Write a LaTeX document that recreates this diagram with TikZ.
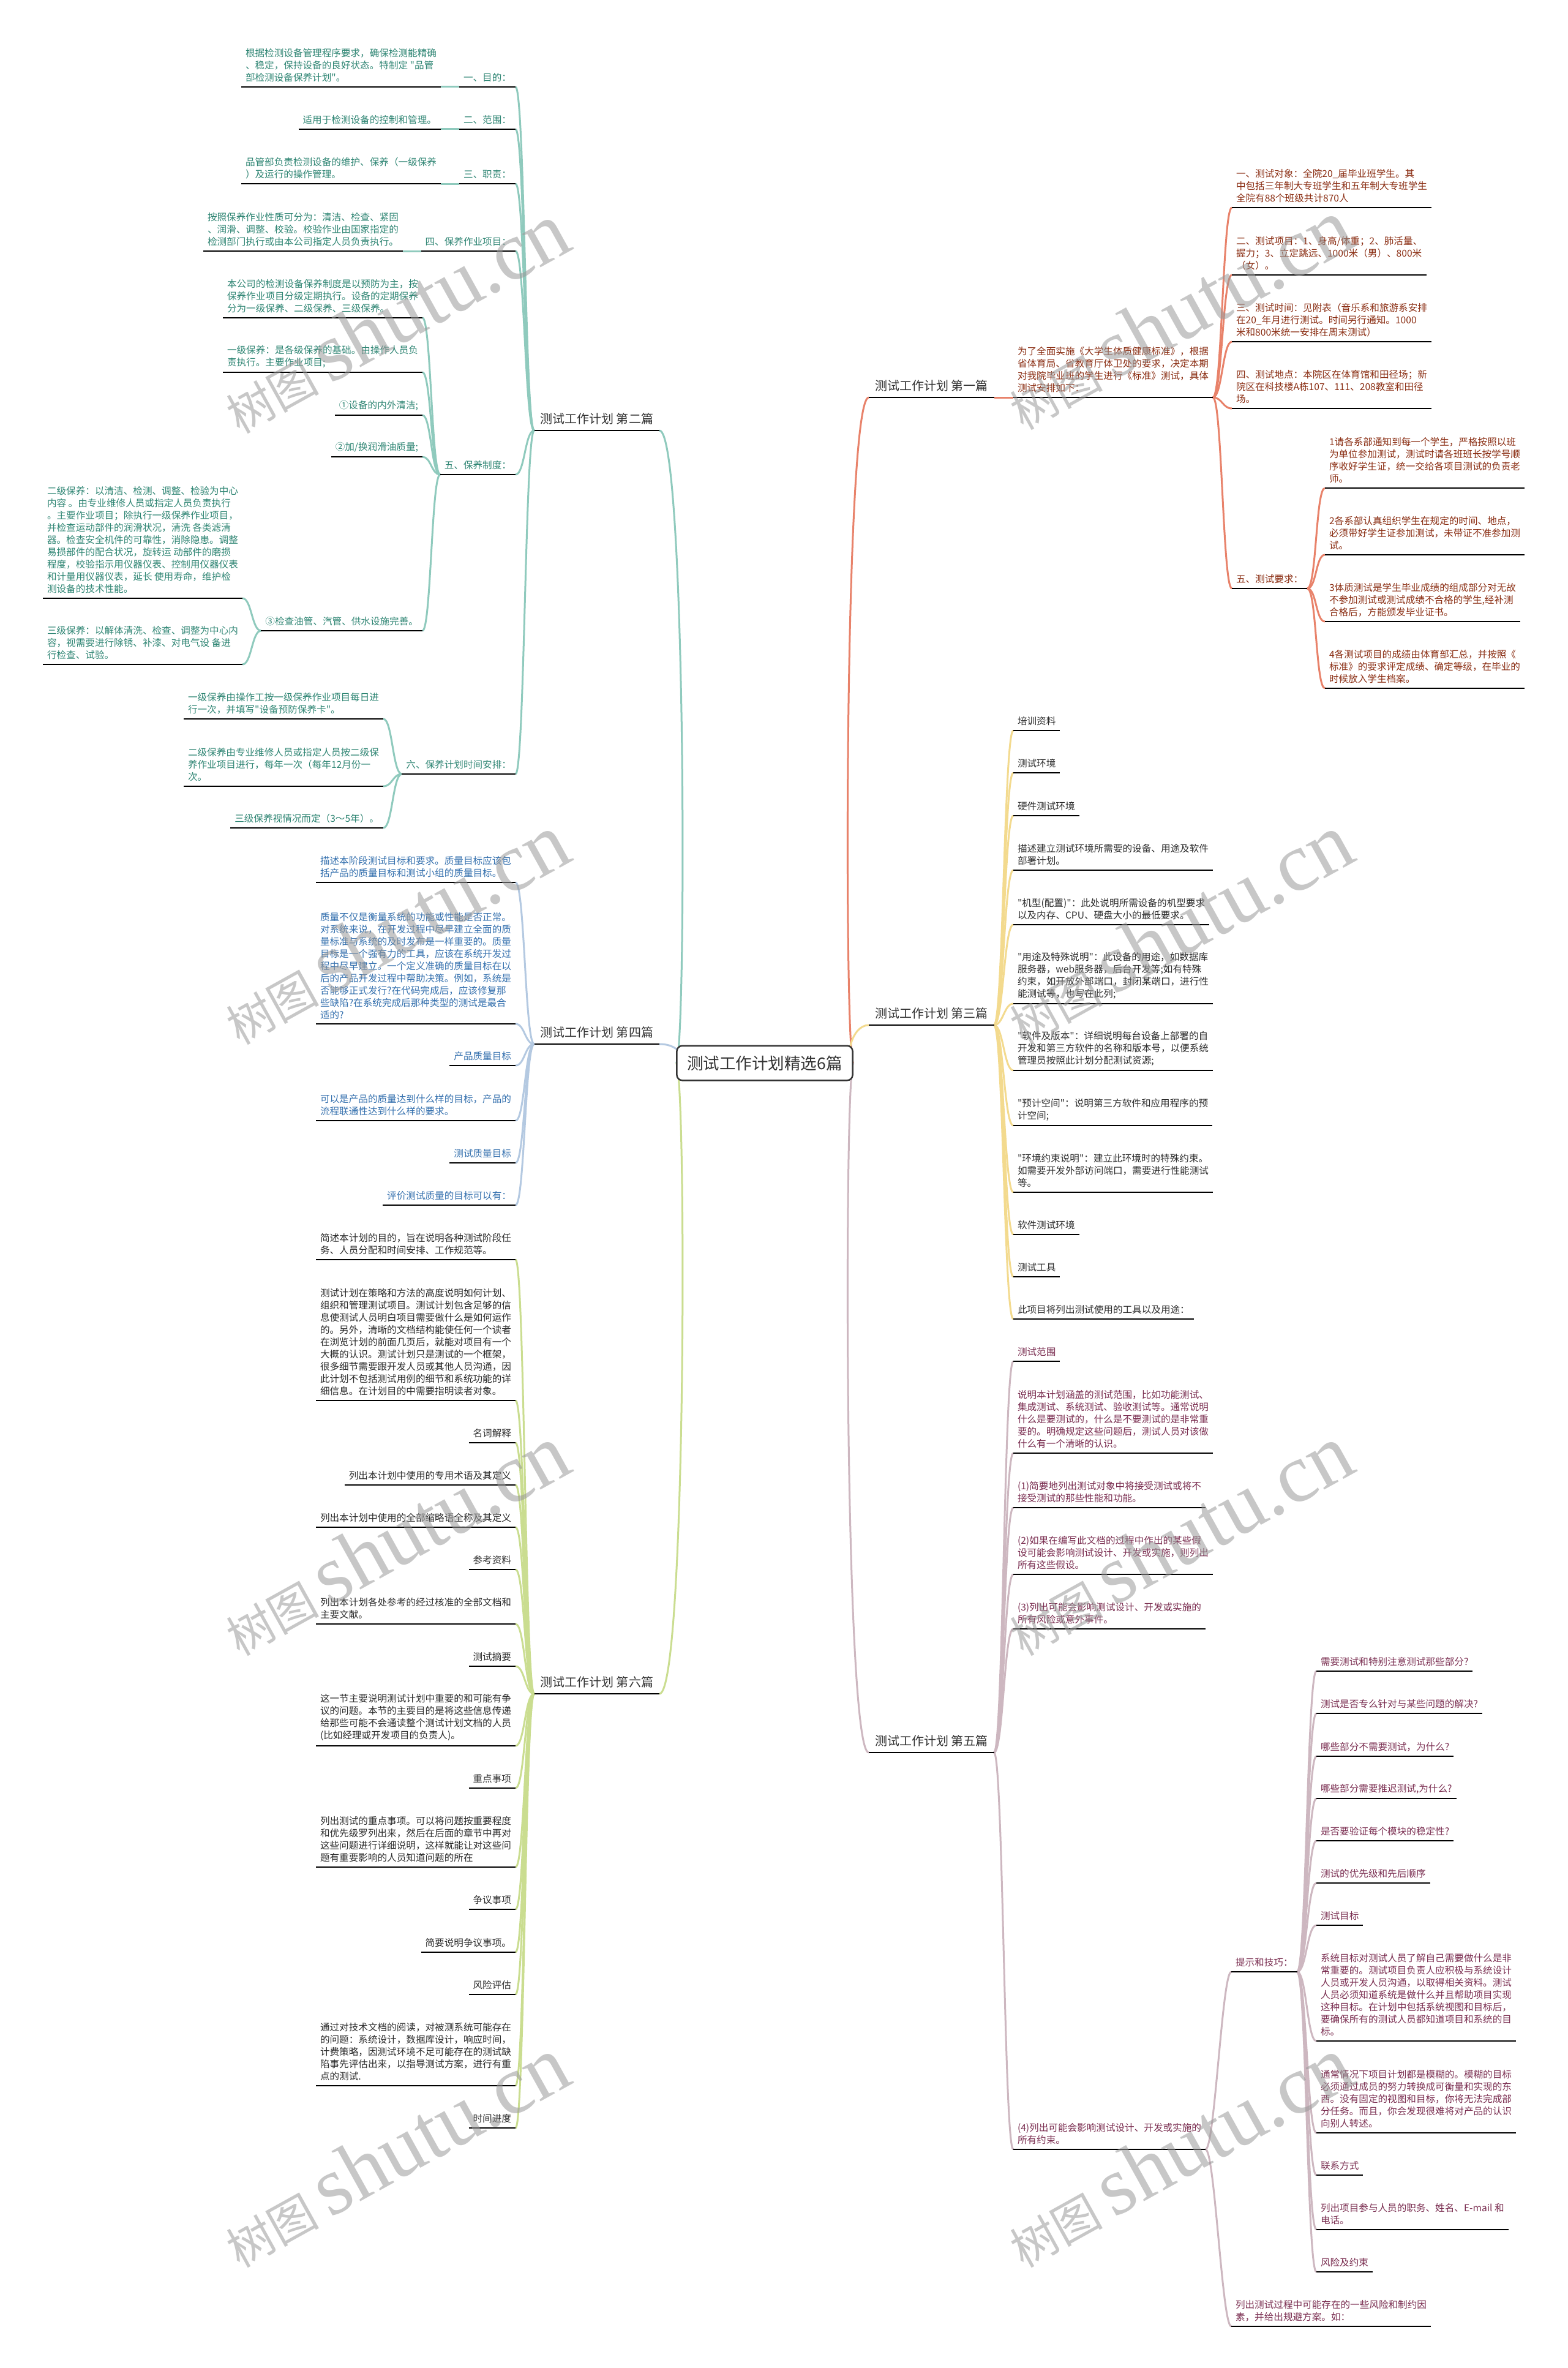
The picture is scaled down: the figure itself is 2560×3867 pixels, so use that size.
\documentclass[tikz,border=0pt]{standalone}
\usepackage{fontspec}
\setmainfont[Ligatures=TeXOff]{Noto Sans CJK SC}
\newfontfamily\wmlatin{Liberation Serif}
\usetikzlibrary{backgrounds}
\definecolor{lkteal}{HTML}{8FCABD}
\definecolor{txteal}{HTML}{2E8573}
\definecolor{lkred}{HTML}{E8826A}
\definecolor{txred}{HTML}{8A2D12}
\definecolor{lkyel}{HTML}{F3DA8E}
\definecolor{txdark}{HTML}{2B2B2B}
\definecolor{lkblue}{HTML}{B4C9E1}
\definecolor{txblue}{HTML}{3470AE}
\definecolor{lkgrn}{HTML}{CADD90}
\definecolor{lkmauve}{HTML}{CDB7C0}
\definecolor{txmauve}{HTML}{7A2D50}
\definecolor{headgray}{HTML}{333333}
\newcommand{\leaffont}{\fontsize{15.6}{20}\selectfont}
\newcommand{\headfont}{\fontsize{20}{24}\selectfont}
\newcommand{\rootfont}{\fontsize{26.5}{30}\selectfont}
\newcommand{\wmtext}{{\fontsize{76}{76}\selectfont 树图}\hspace{18pt}{\wmlatin\fontsize{136}{136}\selectfont shutu.cn}}

\begin{document}
\begin{tikzpicture}[x=1pt,y=-1pt]
	\tikzstyle{uline}=[draw=black, line width=2.4pt]
	\tikzstyle{leaf}=[font=\leaffont, align=left, inner xsep=7pt, inner ysep=8pt, outer sep=0pt, append after command={(\tikzlastnode.south west) edge [uline] (\tikzlastnode.south east)}]
	\tikzstyle{head}=[leaf, font=\headfont, text=headgray, inner xsep=10pt, inner ysep=10pt]
	\tikzstyle{lt}=[anchor=south east]
	\tikzstyle{rt}=[anchor=south west]
	\tikzstyle{tteal}=[leaf, text=txteal]
	\tikzstyle{tred}=[leaf, text=txred]
	\tikzstyle{tdark}=[leaf, text=txdark]
	\tikzstyle{tblue}=[leaf, text=txblue]
	\tikzstyle{tmauve}=[leaf, text=txmauve]
	\tikzstyle{cteal}=[draw=lkteal, line width=3pt]
	\tikzstyle{cred}=[draw=lkred, line width=3pt]
	\tikzstyle{cyel}=[draw=lkyel, line width=3pt]
	\tikzstyle{cblue}=[draw=lkblue, line width=3pt]
	\tikzstyle{cgrn}=[draw=lkgrn, line width=3pt]
	\tikzstyle{cmauve}=[draw=lkmauve, line width=3pt]
	\tikzstyle{root}=[draw=headgray, line width=2.5pt, rounded corners=9pt, fill=white, font=\rootfont, text=headgray, inner xsep=17pt, inner ysep=16pt]
	\tikzstyle{wm}=[rotate=29, text=black!40, opacity=0.55]
	\useasboundingbox (0,0) rectangle (2560,3867);

	\node [root] (root) at (1249,1736) {测试工作计划精选6篇};

	\node [head, lt] (b2) at (1077,703) {测试工作计划 第二篇};
	\node [tteal, lt] (b2a) at (842,142) {一、目的：};
	\node [tteal, lt] (b2a1) at (720,142) {根据检测设备管理程序要求，确保检测能精确\\、稳定，保持设备的良好状态。特制定 "品管\\部检测设备保养计划"。};
	\node [tteal, lt] (b2b) at (842,211) {二、范围：};
	\node [tteal, lt] (b2b1) at (720,211) {适用于检测设备的控制和管理。};
	\node [tteal, lt] (b2c) at (842,300) {三、职责：};
	\node [tteal, lt] (b2c1) at (720,300) {品管部负责检测设备的维护、保养（一级保养\\）及运行的操作管理。};
	\node [tteal, lt] (b2d) at (842,410) {四、保养作业项目：};
	\node [tteal, lt] (b2d1) at (658,410) {按照保养作业性质可分为：清洁、检查、紧固\\、润滑、调整、校验。校验作业由国家指定的\\检测部门执行或由本公司指定人员负责执行。};
	\node [tteal, lt] (b2e) at (842,775) {五、保养制度：};
	\node [tteal, lt] (b2e1) at (690,519) {本公司的检测设备保养制度是以预防为主，按\\保养作业项目分级定期执行。设备的定期保养\\分为一级保养、二级保养、三级保养。};
	\node [tteal, lt] (b2e2) at (690,608) {一级保养：是各级保养的基础。由操作人员负\\责执行。主要作业项目;};
	\node [tteal, lt] (b2e3) at (690,678) {①设备的内外清洁;};
	\node [tteal, lt] (b2e4) at (690,746) {②加/换润滑油质量;};
	\node [tteal, lt] (b2e5) at (690,1030) {③检查油管、汽管、供水设施完善。};
	\node [tteal, lt] (b2e5a) at (396,977) {二级保养：以清洁、检测、调整、检验为中心\\内容 。由专业维修人员或指定人员负责执行\\。主要作业项目；除执行一级保养作业项目，\\并检查运动部件的润滑状况，清洗 各类滤清\\器。检查安全机件的可靠性，消除隐患。调整\\易损部件的配合状况，旋转运 动部件的磨损\\程度，校验指示用仪器仪表、控制用仪器仪表\\和计量用仪器仪表，延长 使用寿命，维护检\\测设备的技术性能。};
	\node [tteal, lt] (b2e5b) at (396,1085) {三级保养：以解体清洗、检查、调整为中心内\\容，视需要进行除锈、补漆、对电气设 备进\\行检查、试验。};
	\node [tteal, lt] (b2f) at (842,1264) {六、保养计划时间安排：};
	\node [tteal, lt] (b2f1) at (626,1174) {一级保养由操作工按一级保养作业项目每日进\\行一次，并填写"设备预防保养卡"。};
	\node [tteal, lt] (b2f2) at (626,1284) {二级保养由专业维修人员或指定人员按二级保\\养作业项目进行，每年一次（每年12月份一\\次。};
	\node [tteal, lt] (b2f3) at (626,1352) {三级保养视情况而定（3～5年）。};

	\node [head, rt] (b1) at (1419,649) {测试工作计划 第一篇};
	\node [tred, rt] (b1a) at (1655,649) {为了全面实施《大学生体质健康标准》，根据\\省体育局、省教育厅体卫处的要求，决定本期\\对我院毕业班的学生进行《标准》测试，具体\\测试安排如下：};
	\node [tred, rt] (b1a1) at (2012,339) {一、测试对象：全院20\_届毕业班学生。其\\中包括三年制大专班学生和五年制大专班学生\\全院有88个班级共计870人};
	\node [tred, rt] (b1a2) at (2012,449) {二、测试项目：1、身高/体重；2、肺活量、\\握力；3、立定跳远、1000米（男）、800米\\（女）。};
	\node [tred, rt] (b1a3) at (2012,558) {三、测试时间：见附表（音乐系和旅游系安排\\在20\_年月进行测试。时间另行通知。1000\\米和800米统一安排在周末测试）};
	\node [tred, rt] (b1a4) at (2012,667) {四、测试地点：本院区在体育馆和田径场；新\\院区在科技楼A栋107、111、208教室和田径\\场。};
	\node [tred, rt] (b1a5) at (2012,961) {五、测试要求：};
	\node [tred, rt] (b1a5a) at (2164,797) {1请各系部通知到每一个学生，严格按照以班\\为单位参加测试，测试时请各班班长按学号顺\\序收好学生证，统一交给各项目测试的负责老\\师。};
	\node [tred, rt] (b1a5b) at (2164,906) {2各系部认真组织学生在规定的时间、地点，\\必须带好学生证参加测试，未带证不准参加测\\试。};
	\node [tred, rt] (b1a5c) at (2164,1015) {3体质测试是学生毕业成绩的组成部分对无故\\不参加测试或测试成绩不合格的学生,经补测\\合格后，方能颁发毕业证书。};
	\node [tred, rt] (b1a5d) at (2164,1124) {4各测试项目的成绩由体育部汇总，并按照《\\标准》的要求评定成绩、确定等级，在毕业的\\时候放入学生档案。};

	\node [head, rt] (b3) at (1419,1674) {测试工作计划 第三篇};
	\node [tdark, rt] (b3a) at (1655,1193) {培训资料};
	\node [tdark, rt] (b3b) at (1655,1262) {测试环境};
	\node [tdark, rt] (b3c) at (1655,1332) {硬件测试环境};
	\node [tdark, rt] (b3d) at (1655,1421) {描述建立测试环境所需要的设备、用途及软件\\部署计划。};
	\node [tdark, rt] (b3e) at (1655,1510) {"机型(配置)"：此处说明所需设备的机型要求\\以及内存、CPU、硬盘大小的最低要求。};
	\node [tdark, rt] (b3f) at (1655,1639) {"用途及特殊说明"：此设备的用途，如数据库\\服务器，web服务器，后台开发等;如有特殊\\约束，如开放外部端口，封闭某端口，进行性\\能测试等，也写在此列;};
	\node [tdark, rt] (b3g) at (1655,1748) {"软件及版本"：详细说明每台设备上部署的自\\开发和第三方软件的名称和版本号，以便系统\\管理员按照此计划分配测试资源;};
	\node [tdark, rt] (b3h) at (1655,1838) {"预计空间"：说明第三方软件和应用程序的预\\计空间;};
	\node [tdark, rt] (b3i) at (1655,1947) {"环境约束说明"：建立此环境时的特殊约束。\\如需要开发外部访问端口，需要进行性能测试\\等。};
	\node [tdark, rt] (b3j) at (1655,2016) {软件测试环境};
	\node [tdark, rt] (b3k) at (1655,2085) {测试工具};
	\node [tdark, rt] (b3l) at (1655,2154) {此项目将列出测试使用的工具以及用途：};

	\node [head, lt] (b4) at (1077,1705) {测试工作计划 第四篇};
	\node [tblue, lt] (b4a) at (842,1441) {描述本阶段测试目标和要求。质量目标应该包\\括产品的质量目标和测试小组的质量目标。};
	\node [tblue, lt] (b4b) at (842,1672) {质量不仅是衡量系统的功能或性能是否正常。\\对系统来说，在开发过程中尽早建立全面的质\\量标准与系统的及时发布是一样重要的。质量\\目标是一个强有力的工具，应该在系统开发过\\程中尽早建立。一个定义准确的质量目标在以\\后的产品开发过程中帮助决策。例如，系统是\\否能够正式发行?在代码完成后，应该修复那\\些缺陷?在系统完成后那种类型的测试是最合\\适的?};
	\node [tblue, lt] (b4c) at (842,1740) {产品质量目标};
	\node [tblue, lt] (b4d) at (842,1830) {可以是产品的质量达到什么样的目标，产品的\\流程联通性达到什么样的要求。};
	\node [tblue, lt] (b4e) at (842,1899) {测试质量目标};
	\node [tblue, lt] (b4f) at (842,1968) {评价测试质量的目标可以有：};

	\node [head, lt] (b6) at (1077,2766) {测试工作计划 第六篇};
	\node [tdark, lt] (b6a) at (842,2057) {简述本计划的目的，旨在说明各种测试阶段任\\务、人员分配和时间安排、工作规范等。};
	\node [tdark, lt] (b6b) at (842,2287) {测试计划在策略和方法的高度说明如何计划、\\组织和管理测试项目。测试计划包含足够的信\\息使测试人员明白项目需要做什么是如何运作\\的。另外，清晰的文档结构能使任何一个读者\\在浏览计划的前面几页后，就能对项目有一个\\大概的认识。测试计划只是测试的一个框架，\\很多细节需要跟开发人员或其他人员沟通，因\\此计划不包括测试用例的细节和系统功能的详\\细信息。在计划目的中需要指明读者对象。};
	\node [tdark, lt] (b6c) at (842,2356) {名词解释};
	\node [tdark, lt] (b6d) at (842,2425) {列出本计划中使用的专用术语及其定义};
	\node [tdark, lt] (b6e) at (842,2494) {列出本计划中使用的全部缩略语全称及其定义};
	\node [tdark, lt] (b6f) at (842,2563) {参考资料};
	\node [tdark, lt] (b6g) at (842,2652) {列出本计划各处参考的经过核准的全部文档和\\主要文献。};
	\node [tdark, lt] (b6h) at (842,2721) {测试摘要};
	\node [tdark, lt] (b6i) at (842,2851) {这一节主要说明测试计划中重要的和可能有争\\议的问题。本节的主要目的是将这些信息传递\\给那些可能不会通读整个测试计划文档的人员\\(比如经理或开发项目的负责人)。};
	\node [tdark, lt] (b6j) at (842,2920) {重点事项};
	\node [tdark, lt] (b6k) at (842,3049) {列出测试的重点事项。可以将问题按重要程度\\和优先级罗列出来，然后在后面的章节中再对\\这些问题进行详细说明，这样就能让对这些问\\题有重要影响的人员知道问题的所在};
	\node [tdark, lt] (b6l) at (842,3118) {争议事项};
	\node [tdark, lt] (b6m) at (842,3188) {简要说明争议事项。};
	\node [tdark, lt] (b6n) at (842,3257) {风险评估};
	\node [tdark, lt] (b6o) at (842,3406) {通过对技术文档的阅读，对被测系统可能存在\\的问题：系统设计，数据库设计，响应时间，\\计费策略，因测试环境不足可能存在的测试缺\\陷事先评估出来，以指导测试方案，进行有重\\点的测试.};
	\node [tdark, lt] (b6p) at (842,3475) {时间进度};

	\node [head, rt] (b5) at (1419,2862) {测试工作计划 第五篇};
	\node [tmauve, rt] (b5a) at (1655,2223) {测试范围};
	\node [tmauve, rt] (b5b) at (1655,2373) {说明本计划涵盖的测试范围，比如功能测试、\\集成测试、系统测试、验收测试等。通常说明\\什么是要测试的，什么是不要测试的是非常重\\要的。明确规定这些问题后，测试人员对该做\\什么有一个清晰的认识。};
	\node [tmauve, rt] (b5c) at (1655,2462) {(1)简要地列出测试对象中将接受测试或将不\\接受测试的那些性能和功能。};
	\node [tmauve, rt] (b5d) at (1655,2571) {(2)如果在编写此文档的过程中作出的某些假\\设可能会影响测试设计、开发或实施，则列出\\所有这些假设。};
	\node [tmauve, rt] (b5e) at (1655,2660) {(3)列出可能会影响测试设计、开发或实施的\\所有风险或意外事件。};
	\node [tmauve, rt] (b5f) at (1655,3510) {(4)列出可能会影响测试设计、开发或实施的\\所有约束。};
	\node [tmauve, rt] (b5g) at (2011,3220) {提示和技巧：};
	\node [tmauve, rt] (b5h) at (2011,3799) {列出测试过程中可能存在的一些风险和制约因\\素，并给出规避方案。如：};
	\node [tmauve, rt] (b5g1) at (2150,2729) {需要测试和特别注意测试那些部分?};
	\node [tmauve, rt] (b5g2) at (2150,2798) {测试是否专么针对与某些问题的解决?};
	\node [tmauve, rt] (b5g3) at (2150,2868) {哪些部分不需要测试，为什么?};
	\node [tmauve, rt] (b5g4) at (2150,2937) {哪些部分需要推迟测试,为什么?};
	\node [tmauve, rt] (b5g5) at (2150,3006) {是否要验证每个模块的稳定性?};
	\node [tmauve, rt] (b5g6) at (2150,3075) {测试的优先级和先后顺序};
	\node [tmauve, rt] (b5g7) at (2150,3144) {测试目标};
	\node [tmauve, rt] (b5g8) at (2150,3333) {系统目标对测试人员了解自己需要做什么是非\\常重要的。测试项目负责人应积极与系统设计\\人员或开发人员沟通，以取得相关资料。测试\\人员必须知道系统是做什么并且帮助项目实现\\这种目标。在计划中包括系统视图和目标后，\\要确保所有的测试人员都知道项目和系统的目\\标。};
	\node [tmauve, rt] (b5g9) at (2150,3483) {通常情况下项目计划都是模糊的。模糊的目标\\必须通过成员的努力转换成可衡量和实现的东\\西。没有固定的视图和目标，你将无法完成部\\分任务。而且，你会发现很难将对产品的认识\\向别人转述。};
	\node [tmauve, rt] (b5g10) at (2150,3552) {联系方式};
	\node [tmauve, rt] (b5g11) at (2150,3641) {列出项目参与人员的职务、姓名、E-mail 和\\电话。};
	\node [tmauve, rt] (b5g12) at (2150,3710) {风险及约束};

	\begin{scope}[on background layer]
		\fill [white] (0,0) rectangle (2560,3867);
		\draw [cred] (root.east) .. controls +(-15,0) and +(-41,0) .. (b1.south west);
		\draw [cyel] (root.east) .. controls +(-15,0) and +(-30,0) .. (b3.south west);
		\draw [cmauve] (root.east) .. controls +(-15,0) and +(-41,0) .. (b5.south west);
		\draw [cteal] (root.west) .. controls +(17,0) and +(45,0) .. (b2.south east);
		\draw [cblue] (root.west) .. controls +(17,0) and +(38,0) .. (b4.south east);
		\draw [cgrn] (root.west) .. controls +(17,0) and +(45,0) .. (b6.south east);

		\draw [cteal] (b2.south west) .. controls +(-15,0) and +(15,0) .. (b2a.south east);
		\draw [cteal] (b2.south west) .. controls +(-15,0) and +(15,0) .. (b2b.south east);
		\draw [cteal] (b2.south west) .. controls +(-15,0) and +(15,0) .. (b2c.south east);
		\draw [cteal] (b2.south west) .. controls +(-15,0) and +(15,0) .. (b2d.south east);
		\draw [cteal] (b2.south west) .. controls +(-15,0) and +(15,0) .. (b2e.south east);
		\draw [cteal] (b2.south west) .. controls +(-15,0) and +(15,0) .. (b2f.south east);
		\draw [cteal] (b2a.south west) -- (b2a1.south east);
		\draw [cteal] (b2b.south west) -- (b2b1.south east);
		\draw [cteal] (b2c.south west) -- (b2c1.south east);
		\draw [cteal] (b2d.south west) -- (b2d1.south east);
		\draw [cteal] (b2e.south west) .. controls +(-14,0) and +(14,0) .. (b2e1.south east);
		\draw [cteal] (b2e.south west) .. controls +(-14,0) and +(14,0) .. (b2e2.south east);
		\draw [cteal] (b2e.south west) .. controls +(-14,0) and +(14,0) .. (b2e3.south east);
		\draw [cteal] (b2e.south west) .. controls +(-14,0) and +(14,0) .. (b2e4.south east);
		\draw [cteal] (b2e.south west) .. controls +(-14,0) and +(14,0) .. (b2e5.south east);
		\draw [cteal] (b2e5.south west) .. controls +(-15,0) and +(15,0) .. (b2e5a.south east);
		\draw [cteal] (b2e5.south west) .. controls +(-15,0) and +(15,0) .. (b2e5b.south east);
		\draw [cteal] (b2f.south west) .. controls +(-15,0) and +(15,0) .. (b2f1.south east);
		\draw [cteal] (b2f.south west) .. controls +(-15,0) and +(15,0) .. (b2f2.south east);
		\draw [cteal] (b2f.south west) .. controls +(-15,0) and +(15,0) .. (b2f3.south east);

		\draw [cred] (b1.south east) -- (b1a.south west);
		\draw [cred] (b1a.south east) .. controls +(15,0) and +(-15,0) .. (b1a1.south west);
		\draw [cred] (b1a.south east) .. controls +(15,0) and +(-15,0) .. (b1a2.south west);
		\draw [cred] (b1a.south east) .. controls +(15,0) and +(-15,0) .. (b1a3.south west);
		\draw [cred] (b1a.south east) .. controls +(15,0) and +(-15,0) .. (b1a4.south west);
		\draw [cred] (b1a.south east) .. controls +(15,0) and +(-15,0) .. (b1a5.south west);
		\draw [cred] (b1a5.south east) .. controls +(15,0) and +(-15,0) .. (b1a5a.south west);
		\draw [cred] (b1a5.south east) .. controls +(15,0) and +(-15,0) .. (b1a5b.south west);
		\draw [cred] (b1a5.south east) .. controls +(15,0) and +(-15,0) .. (b1a5c.south west);
		\draw [cred] (b1a5.south east) .. controls +(15,0) and +(-15,0) .. (b1a5d.south west);

		\draw [cyel] (b3.south east) .. controls +(15,0) and +(-15,0) .. (b3a.south west);
		\draw [cyel] (b3.south east) .. controls +(15,0) and +(-15,0) .. (b3b.south west);
		\draw [cyel] (b3.south east) .. controls +(15,0) and +(-15,0) .. (b3c.south west);
		\draw [cyel] (b3.south east) .. controls +(15,0) and +(-15,0) .. (b3d.south west);
		\draw [cyel] (b3.south east) .. controls +(15,0) and +(-15,0) .. (b3e.south west);
		\draw [cyel] (b3.south east) .. controls +(15,0) and +(-15,0) .. (b3f.south west);
		\draw [cyel] (b3.south east) .. controls +(15,0) and +(-15,0) .. (b3g.south west);
		\draw [cyel] (b3.south east) .. controls +(15,0) and +(-15,0) .. (b3h.south west);
		\draw [cyel] (b3.south east) .. controls +(15,0) and +(-15,0) .. (b3i.south west);
		\draw [cyel] (b3.south east) .. controls +(15,0) and +(-15,0) .. (b3j.south west);
		\draw [cyel] (b3.south east) .. controls +(15,0) and +(-15,0) .. (b3k.south west);
		\draw [cyel] (b3.south east) .. controls +(15,0) and +(-15,0) .. (b3l.south west);

		\draw [cblue] (b4.south west) .. controls +(-15,0) and +(15,0) .. (b4a.south east);
		\draw [cblue] (b4.south west) .. controls +(-15,0) and +(15,0) .. (b4b.south east);
		\draw [cblue] (b4.south west) .. controls +(-15,0) and +(15,0) .. (b4c.south east);
		\draw [cblue] (b4.south west) .. controls +(-15,0) and +(15,0) .. (b4d.south east);
		\draw [cblue] (b4.south west) .. controls +(-15,0) and +(15,0) .. (b4e.south east);
		\draw [cblue] (b4.south west) .. controls +(-15,0) and +(15,0) .. (b4f.south east);

		\draw [cgrn] (b6.south west) .. controls +(-15,0) and +(15,0) .. (b6a.south east);
		\draw [cgrn] (b6.south west) .. controls +(-15,0) and +(15,0) .. (b6b.south east);
		\draw [cgrn] (b6.south west) .. controls +(-15,0) and +(15,0) .. (b6c.south east);
		\draw [cgrn] (b6.south west) .. controls +(-15,0) and +(15,0) .. (b6d.south east);
		\draw [cgrn] (b6.south west) .. controls +(-15,0) and +(15,0) .. (b6e.south east);
		\draw [cgrn] (b6.south west) .. controls +(-15,0) and +(15,0) .. (b6f.south east);
		\draw [cgrn] (b6.south west) .. controls +(-15,0) and +(15,0) .. (b6g.south east);
		\draw [cgrn] (b6.south west) .. controls +(-15,0) and +(15,0) .. (b6h.south east);
		\draw [cgrn] (b6.south west) .. controls +(-15,0) and +(15,0) .. (b6i.south east);
		\draw [cgrn] (b6.south west) .. controls +(-15,0) and +(15,0) .. (b6j.south east);
		\draw [cgrn] (b6.south west) .. controls +(-15,0) and +(15,0) .. (b6k.south east);
		\draw [cgrn] (b6.south west) .. controls +(-15,0) and +(15,0) .. (b6l.south east);
		\draw [cgrn] (b6.south west) .. controls +(-15,0) and +(15,0) .. (b6m.south east);
		\draw [cgrn] (b6.south west) .. controls +(-15,0) and +(15,0) .. (b6n.south east);
		\draw [cgrn] (b6.south west) .. controls +(-15,0) and +(15,0) .. (b6o.south east);
		\draw [cgrn] (b6.south west) .. controls +(-15,0) and +(15,0) .. (b6p.south east);

		\draw [cmauve] (b5.south east) .. controls +(15,0) and +(-15,0) .. (b5a.south west);
		\draw [cmauve] (b5.south east) .. controls +(15,0) and +(-15,0) .. (b5b.south west);
		\draw [cmauve] (b5.south east) .. controls +(15,0) and +(-15,0) .. (b5c.south west);
		\draw [cmauve] (b5.south east) .. controls +(15,0) and +(-15,0) .. (b5d.south west);
		\draw [cmauve] (b5.south east) .. controls +(15,0) and +(-15,0) .. (b5e.south west);
		\draw [cmauve] (b5.south east) .. controls +(15,0) and +(-15,0) .. (b5f.south west);
		\draw [cmauve] (b5f.south east) .. controls +(15,0) and +(-15,0) .. (b5g.south west);
		\draw [cmauve] (b5f.south east) .. controls +(15,0) and +(-15,0) .. (b5h.south west);
		\draw [cmauve] (b5g.south east) .. controls +(15,0) and +(-15,0) .. (b5g1.south west);
		\draw [cmauve] (b5g.south east) .. controls +(15,0) and +(-15,0) .. (b5g2.south west);
		\draw [cmauve] (b5g.south east) .. controls +(15,0) and +(-15,0) .. (b5g3.south west);
		\draw [cmauve] (b5g.south east) .. controls +(15,0) and +(-15,0) .. (b5g4.south west);
		\draw [cmauve] (b5g.south east) .. controls +(15,0) and +(-15,0) .. (b5g5.south west);
		\draw [cmauve] (b5g.south east) .. controls +(15,0) and +(-15,0) .. (b5g6.south west);
		\draw [cmauve] (b5g.south east) .. controls +(15,0) and +(-15,0) .. (b5g7.south west);
		\draw [cmauve] (b5g.south east) .. controls +(15,0) and +(-15,0) .. (b5g8.south west);
		\draw [cmauve] (b5g.south east) .. controls +(15,0) and +(-15,0) .. (b5g9.south west);
		\draw [cmauve] (b5g.south east) .. controls +(15,0) and +(-15,0) .. (b5g10.south west);
		\draw [cmauve] (b5g.south east) .. controls +(15,0) and +(-15,0) .. (b5g11.south west);
		\draw [cmauve] (b5g.south east) .. controls +(15,0) and +(-15,0) .. (b5g12.south west);
	\end{scope}

	\node [wm] (wm1) at (644,519) {\wmtext};
	\node [wm] (wm2) at (1924,513) {\wmtext};
	\node [wm] (wm3) at (644,1517) {\wmtext};
	\node [wm] (wm4) at (1924,1517) {\wmtext};
	\node [wm] (wm5) at (644,2515) {\wmtext};
	\node [wm] (wm6) at (1924,2515) {\wmtext};
	\node [wm] (wm7) at (644,3514) {\wmtext};
	\node [wm] (wm8) at (1924,3514) {\wmtext};
\end{tikzpicture}
\end{document}
